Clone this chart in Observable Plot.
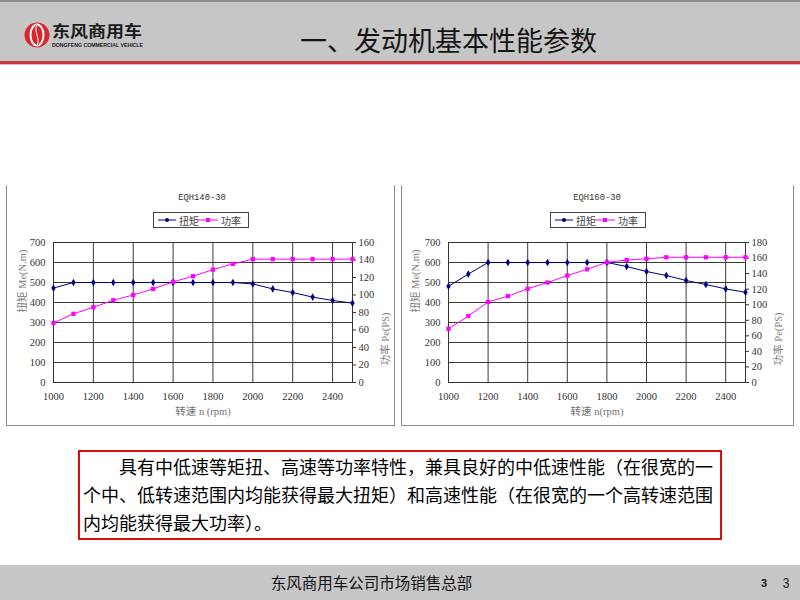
<!DOCTYPE html>
<html>
<head>
<meta charset="utf-8">
<script src="https://cdn.jsdelivr.net/npm/d3@7"></script>
<script src="https://cdn.jsdelivr.net/npm/@observablehq/plot@0.6"></script>
<style>
  html, body { margin: 0; padding: 0; background: #fff; }
  #slide { position: relative; width: 800px; height: 600px; overflow: hidden; background: #fff;
           font-family: "Noto Sans CJK SC", "Noto Sans", sans-serif; }
  .abs { position: absolute; }
  #header { left: 0; top: 0; width: 800px; height: 59px; background: #c6c6c6; border-top: 2px solid #8c8c8c; }
  #redline { left: 0; top: 61px; width: 800px; height: 3px; background: #c9363c; }
  #pinkline { left: 0; top: 64px; width: 800px; height: 1px; background: #e9b9bb; }
  #title { left: 300px; top: 22px; font-size: 27px; line-height: 36px; color: #141414; white-space: nowrap; }
  .frame { border-left: 1px solid #8a8a8a; border-right: 1px solid #8a8a8a; border-bottom: 1px solid #8a8a8a; box-sizing: border-box; }
  .ctitle { font-family: "Liberation Mono", "DejaVu Sans Mono", monospace; font-size: 8.8px; color: #333; transform: translate(-50%, -50%); white-space: nowrap; }
  .legend { border: 1px solid #444; box-sizing: border-box; background: #fff; }
  #note { left: 78px; top: 450px; width: 644px; height: 90px; border: 2px solid #d80e0e; box-sizing: border-box;
          padding: 0px 3px; font-size: 18px; line-height: 28px; color: #000; white-space: nowrap; }
  #footer { left: 0; top: 565px; width: 800px; height: 35px; background: #c6c6c6; }
  #foottext { left: 0; top: 565px; width: 743px; text-align: center; font-size: 15.5px; line-height: 35px; color: #111; }
  #pg1 { left: 761px; top: 576px; font-family: "Liberation Sans", sans-serif; font-weight: bold; font-size: 11px; line-height: 14px; color: #111; }
  #pg2 { left: 782px; top: 575px; font-family: "Liberation Sans", sans-serif; font-size: 15px; line-height: 16px; color: #222; transform: scaleX(0.8); }
</style>
</head>
<body>
<div id="slide">
  <div id="header" class="abs"></div>
  <div id="redline" class="abs"></div>
  <div id="pinkline" class="abs"></div>
  <svg class="abs" style="left:20px;top:18px" width="130" height="34" id="logo">
    <circle cx="17" cy="17" r="12.5" fill="#d6282e"/>
    <ellipse cx="17" cy="17" rx="6.5" ry="10.5" fill="none" stroke="#fff" stroke-width="2"/>
    <path d="M17 7 C13 12,21 22,17 27" fill="none" stroke="#d6282e" stroke-width="2.5"/>
    <path d="M17 7 C13 12,21 22,17 27" fill="none" stroke="#fff" stroke-width="1"/>
    <text x="32" y="19" font-family="Noto Sans CJK SC" font-weight="bold" font-size="15.5" fill="#1a1a1a" textLength="90" lengthAdjust="spacingAndGlyphs">东风商用车</text>
    <text x="32" y="29" font-family="Liberation Sans" font-weight="bold" font-size="5" fill="#1a1a1a" textLength="91" lengthAdjust="spacingAndGlyphs">DONGFENG COMMERCIAL VEHICLE</text>
  </svg>
  <div id="title" class="abs">一、发动机基本性能参数</div>

  <div id="frame1" class="abs frame" style="left:6px;top:185px;width:389px;height:241px"></div>
  <div id="frame2" class="abs frame" style="left:401px;top:185px;width:393px;height:241px"></div>
  <div id="chart1" class="abs" style="left:6px;top:185px"></div>
  <div id="chart2" class="abs" style="left:401px;top:185px"></div>
  <div class="abs ctitle" id="t1" style="left:202px;top:198px"></div>
  <div class="abs ctitle" id="t2" style="left:597px;top:198px"></div>
  <div class="abs legend" id="lg1" style="left:153px;top:212px;width:96px;height:16px"></div>
  <div class="abs legend" id="lg2" style="left:550px;top:212px;width:96px;height:16px"></div>

  <div id="note" class="abs"><span style="display:inline-block;width:36px"></span>具有中低速等矩扭、高速等功率特性，兼具良好的中低速性能（在很宽的一<br>个中、低转速范围内均能获得最大扭矩）和高速性能（在很宽的一个高转速范围<br>内均能获得最大功率）。</div>

  <div id="footer" class="abs"></div>
  <div id="foottext" class="abs">东风商用车公司市场销售总部</div>
  <div id="pg1" class="abs">3</div>
  <div id="pg2" class="abs">3</div>
</div>
<script>
// ---- data ----
const rpm = [1000, 1100, 1200, 1300, 1400, 1500, 1600, 1700, 1800, 1900, 2000, 2100, 2200, 2300, 2400, 2500];
const torque140 = [472, 500, 500, 500, 500, 500, 500, 500, 500, 500, 493, 468, 450, 427, 410, 397];
const power140  = [68, 78.5, 86, 94, 100, 107, 115, 121.5, 129, 135.5, 141, 141, 141, 141, 141, 141];
const torque160 = [481, 542, 600, 600, 600, 600, 600, 600, 600, 580, 555, 535, 510, 490, 468, 451];
const power160  = [69, 85.5, 103.5, 111, 120.5, 128.5, 137.5, 145.5, 154.5, 157.5, 159, 161, 161, 161, 161, 161];
const xTicks = [1000, 1200, 1400, 1600, 1800, 2000, 2200, 2400];
const torqueTicks = [0, 100, 200, 300, 400, 500, 600, 700];
const powerTicks140 = [0, 20, 40, 60, 80, 100, 120, 140, 160];
const powerTicks160 = [0, 20, 40, 60, 80, 100, 120, 140, 160, 180];
const titles = ["EQH140-30", "EQH160-30"];
const seriesNames = ["扭矩", "功率"];
const seriesColors = ["#000080", "#ff00ff"];
const yLabel = "扭矩 Me(N.m)";
const pLabel = "功率 Pe(PS)";
const xLabels = ["转速 n (rpm)", "转速 n(rpm)"];

function chart({torque, power, powerTicks, width, marginRight, xLabel, leftDx, rightDx}) {
  const pmax = powerTicks[powerTicks.length - 1];
  const k = 700 / pmax;
  const data = rpm.map((r, i) => ({rpm: r, torque: torque[i], power: power[i] * k}));
  return Plot.plot({
    width, height: 240,
    marginLeft: 47, marginRight, marginTop: 57, marginBottom: 43,
    x: {domain: [1000, 2500]},
    y: {domain: [0, 700]},
    style: {fontFamily: "'Liberation Serif', 'Noto Sans CJK SC', serif", fontSize: "10.5px", color: "#333", background: "transparent", overflow: "visible"},
    marks: [
      Plot.gridY({ticks: torqueTicks, stroke: "#3a3a3a", strokeOpacity: 1}),
      Plot.gridX({ticks: xTicks, stroke: "#3a3a3a", strokeOpacity: 1}),
      Plot.frame({stroke: "#333"}),
      Plot.axisY({ticks: torqueTicks, tickSize: 0, tickPadding: 8, label: null}),
      Plot.axisY({anchor: "right", ticks: powerTicks.map(v => v * k), tickFormat: d => Math.round(d / k), tickSize: 3, tickPadding: 3, label: null}),
      Plot.axisX({ticks: xTicks, tickSize: 0, tickPadding: 10, label: null, tickFormat: d => String(d)}),
      Plot.line(data, {x: "rpm", y: "torque", stroke: seriesColors[0], strokeWidth: 1}),
      Plot.dot(data, {x: "rpm", y: "torque", fill: seriesColors[0], stroke: null, r: 2.3, symbol: "diamond"}),
      Plot.line(data, {x: "rpm", y: "power", stroke: seriesColors[1], strokeWidth: 1}),
      Plot.dot(data, {x: "rpm", y: "power", fill: seriesColors[1], stroke: null, r: 2.4, symbol: "square"}),
      Plot.text([yLabel], {text: d => d, frameAnchor: "left", dx: leftDx, rotate: -90, fill: "#808080", fontSize: 10.5}),
      Plot.text([pLabel], {text: d => d, frameAnchor: "right", dx: rightDx, rotate: -90, fill: "#808080", fontSize: 10.5}),
      Plot.text([xLabel], {text: d => d, frameAnchor: "bottom", dy: 29, lineAnchor: "middle", fill: "#707070", fontSize: 10.5})
    ]
  });
}

document.getElementById("chart1").appendChild(chart({torque: torque140, power: power140, powerTicks: powerTicks140, width: 388, marginRight: 42, xLabel: xLabels[0], leftDx: -31, rightDx: 33}));
document.getElementById("chart2").appendChild(chart({torque: torque160, power: power160, powerTicks: powerTicks160, width: 392, marginRight: 48, xLabel: xLabels[1], leftDx: -33, rightDx: 33}));
document.getElementById("t1").textContent = titles[0];
document.getElementById("t2").textContent = titles[1];

function legend(id) {
  const svg = d3.select("#" + id).append("svg").attr("width", 94).attr("height", 14)
    .style("display", "block").style("overflow", "visible");
  const items = [{x: 4, w: 18}, {x: 44, w: 20}];
  items.forEach((it, i) => {
    svg.append("line").attr("x1", it.x).attr("x2", it.x + it.w).attr("y1", 7).attr("y2", 7)
      .attr("stroke", seriesColors[i]).attr("stroke-width", 1);
    if (i === 0) svg.append("circle").attr("cx", it.x + it.w / 2).attr("cy", 7).attr("r", 2).attr("fill", seriesColors[i]);
    else svg.append("rect").attr("x", it.x + it.w / 2 - 2).attr("y", 5).attr("width", 4).attr("height", 4).attr("fill", seriesColors[i]);
    svg.append("text").attr("x", it.x + it.w + 3).attr("y", 7).attr("dominant-baseline", "central").attr("font-size", 10)
      .attr("font-family", "Noto Sans CJK SC").attr("fill", "#444").text(seriesNames[i]);
  });
}
legend("lg1");
legend("lg2");
</script>
</body>
</html>
